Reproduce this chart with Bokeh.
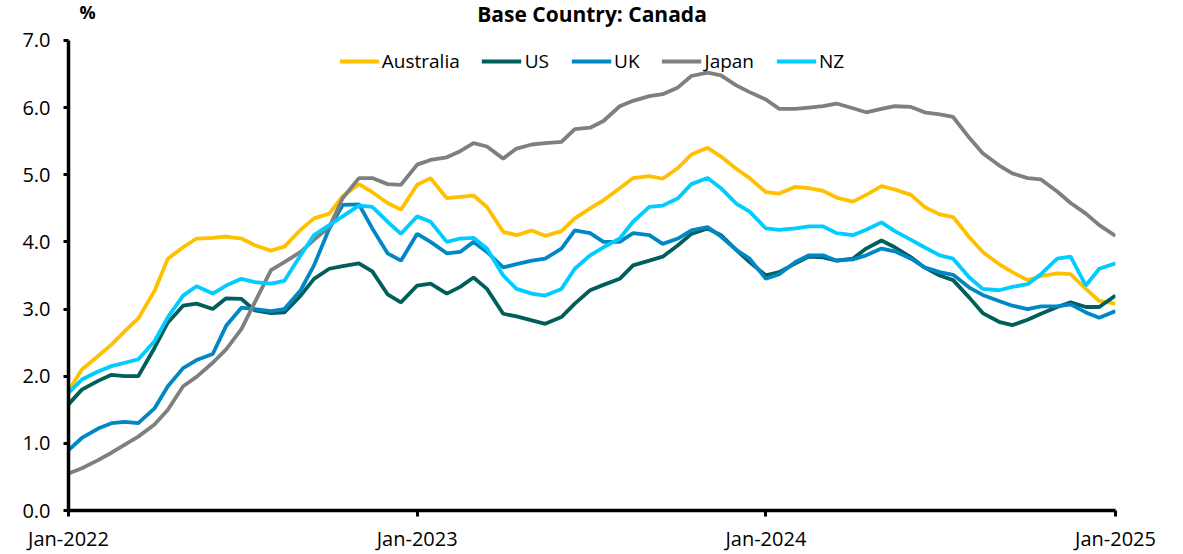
import pandas as pd
from datetime import datetime
from bokeh.plotting import figure
from bokeh.models import (Range1d, FixedTicker, NumeralTickFormatter, DatetimeTickFormatter,
                          Label, Legend, LegendItem, ColumnDataSource)
from bokeh.embed import file_html
from bokeh.resources import INLINE

# Semi-monthly observation dates (1st and 15th of each month)
dates = list(pd.date_range("2022-01-01", "2025-01-01", freq="SMS"))

australia = [1.78, 2.10, 2.30, 2.47, 2.67, 2.86, 3.27, 3.75, 3.92, 4.05, 4.06, 4.08,
             4.05, 3.95, 3.87, 3.93, 4.18, 4.35, 4.42, 4.68, 4.86, 4.74, 4.58, 4.48,
             4.85, 4.95, 4.65, 4.67, 4.69, 4.52, 4.15, 4.10, 4.17, 4.09, 4.16, 4.35,
             4.50, 4.62, 4.80, 4.95, 4.98, 4.94, 5.10, 5.30, 5.40, 5.27, 5.09, 4.95,
             4.74, 4.72, 4.82, 4.80, 4.76, 4.66, 4.60, 4.70, 4.83, 4.78, 4.70, 4.52,
             4.41, 4.37, 4.07, 3.85, 3.67, 3.55, 3.43, 3.49, 3.53, 3.52, 3.30, 3.12,
             3.08]
us = [1.58, 1.80, 1.93, 2.02, 2.00, 2.00, 2.42, 2.80, 3.05, 3.08, 3.00, 3.16,
      3.15, 2.98, 2.94, 2.95, 3.20, 3.45, 3.60, 3.64, 3.68, 3.56, 3.22, 3.10,
      3.35, 3.38, 3.23, 3.33, 3.47, 3.30, 2.93, 2.89, 2.83, 2.78, 2.88, 3.08,
      3.28, 3.36, 3.45, 3.65, 3.72, 3.78, 3.95, 4.12, 4.20, 4.10, 3.88, 3.70,
      3.50, 3.55, 3.68, 3.78, 3.77, 3.72, 3.75, 3.90, 4.02, 3.92, 3.77, 3.62,
      3.50, 3.43, 3.17, 2.94, 2.81, 2.76, 2.84, 2.93, 3.03, 3.10, 3.03, 3.03,
      3.20]
uk = [0.90, 1.08, 1.22, 1.30, 1.32, 1.30, 1.52, 1.85, 2.12, 2.24, 2.33, 2.75,
      3.02, 3.00, 2.97, 3.00, 3.28, 3.65, 4.20, 4.55, 4.56, 4.20, 3.83, 3.72,
      4.12, 4.00, 3.83, 3.85, 4.00, 3.85, 3.62, 3.67, 3.72, 3.75, 3.90, 4.17,
      4.13, 4.00, 4.00, 4.13, 4.10, 3.97, 4.05, 4.17, 4.22, 4.08, 3.88, 3.75,
      3.45, 3.52, 3.70, 3.80, 3.80, 3.72, 3.74, 3.80, 3.90, 3.86, 3.75, 3.62,
      3.55, 3.51, 3.32, 3.21, 3.12, 3.05, 3.00, 3.04, 3.04, 3.07, 2.95, 2.87,
      2.97]
japan = [0.55, 0.63, 0.75, 0.86, 0.98, 1.10, 1.28, 1.50, 1.85, 1.99, 2.20, 2.40,
         2.70, 3.10, 3.58, 3.70, 3.85, 4.03, 4.22, 4.65, 4.95, 4.95, 4.86, 4.85,
         5.15, 5.22, 5.26, 5.35, 5.47, 5.42, 5.24, 5.39, 5.45, 5.47, 5.49, 5.68,
         5.70, 5.80, 6.02, 6.10, 6.17, 6.20, 6.30, 6.47, 6.52, 6.48, 6.33, 6.23,
         6.12, 5.98, 5.98, 6.00, 6.02, 6.06, 5.99, 5.93, 5.98, 6.02, 6.01, 5.93,
         5.90, 5.86, 5.55, 5.32, 5.14, 5.02, 4.95, 4.93, 4.75, 4.58, 4.42, 4.25,
         4.09]
nz = [1.75, 1.95, 2.07, 2.15, 2.20, 2.25, 2.52, 2.88, 3.20, 3.34, 3.23, 3.35,
      3.45, 3.40, 3.38, 3.42, 3.80, 4.10, 4.25, 4.38, 4.54, 4.52, 4.30, 4.12,
      4.38, 4.30, 4.00, 4.05, 4.06, 3.90, 3.50, 3.30, 3.23, 3.20, 3.30, 3.60,
      3.80, 3.92, 4.05, 4.30, 4.52, 4.54, 4.65, 4.86, 4.95, 4.80, 4.57, 4.45,
      4.20, 4.18, 4.20, 4.23, 4.23, 4.13, 4.10, 4.18, 4.29, 4.16, 4.03, 3.92,
      3.80, 3.75, 3.47, 3.30, 3.28, 3.33, 3.37, 3.52, 3.75, 3.78, 3.35, 3.60,
      3.68]

series_names = ["Australia", "US", "UK", "Japan", "NZ"]
series_values = [australia, us, uk, japan, nz]
series_colors = ["#FFC000", "#005F5A", "#0088C6", "#7F7F7F", "#00CCFF"]

y_ticks = [0, 1, 2, 3, 4, 5, 6, 7]
x_tick_dates = [datetime(2022, 1, 1), datetime(2023, 1, 1), datetime(2024, 1, 1), datetime(2025, 1, 1)]

FONT = "Open Sans"

W, H = 1183, 554
B_LEFT, B_RIGHT, B_BOTTOM = 68, 68, 43
AXIS_TOP_PX = 40          # pixel row of the 7.0 gridline
Y_MAX = 7.0
frame_h = H - B_BOTTOM
# extend the y range above 7.0 so that the title/legend band sits inside the frame
y_top = Y_MAX * frame_h / (frame_h - AXIS_TOP_PX)


def ms(d):
    return pd.Timestamp(d).value / 1e6


x_start, x_end = ms(x_tick_dates[0]), ms(x_tick_dates[-1])
p = figure(width=W, height=H, x_axis_type="datetime",
           x_range=Range1d(x_start, x_end), y_range=Range1d(0, y_top),
           output_backend="svg", toolbar_location=None,
           min_border_left=B_LEFT, min_border_right=B_RIGHT, min_border_top=0,
           min_border_bottom=B_BOTTOM)

p.outline_line_color = None
p.xgrid.grid_line_color = None
p.ygrid.grid_line_color = None
p.background_fill_color = "white"
p.border_fill_color = "white"

items = []
for name, vals, col in zip(series_names, series_values, series_colors):
    src = ColumnDataSource(dict(x=dates, y=vals))
    r = p.line("x", "y", source=src, line_color=col, line_width=3.8)
    items.append(LegendItem(label=name, renderers=[r]))

legend = Legend(items=items, orientation="horizontal", location="top_center",
                border_line_color=None, background_fill_alpha=0,
                label_text_font=FONT, label_text_font_size="19px", label_text_color="#000000",
                glyph_width=40, glyph_height=20, label_standoff=3, spacing=22,
                padding=5, margin=48)
p.add_layout(legend, "center")

# axes
for ax in (p.xaxis[0], p.yaxis[0]):
    ax.axis_line_width = 3.5
    ax.axis_line_color = "black"
    ax.major_tick_line_width = 3
    ax.major_tick_line_color = "black"
    ax.major_tick_in = 0
    ax.minor_tick_line_color = None
    ax.major_label_text_font = FONT
    ax.major_label_text_font_size = "20px"
    ax.major_label_text_color = "black"

p.yaxis.ticker = FixedTicker(ticks=y_ticks)
p.yaxis.bounds = (0, Y_MAX)
p.yaxis.formatter = NumeralTickFormatter(format="0.0")
p.yaxis.major_tick_out = 5
p.yaxis.major_label_standoff = 13

p.xaxis.ticker = FixedTicker(ticks=[ms(d) for d in x_tick_dates])
fmt = "%b-%Y"
p.xaxis.formatter = DatetimeTickFormatter(years=fmt, months=fmt, days=fmt, hours=fmt,
                                          hourmin=fmt, minutes=fmt, minsec=fmt,
                                          seconds=fmt, milliseconds=fmt, microseconds=fmt)
p.xaxis.major_tick_out = 6
p.xaxis.major_label_standoff = 8

x_mid = (x_start + x_end) / 2
p.add_layout(Label(x=x_mid, y=Y_MAX, x_units="data", y_units="data", y_offset=26,
                   text="Base Country: Canada", text_align="center", text_baseline="middle",
                   text_font=FONT, text_font_size="21px", text_font_style="bold",
                   text_color="black"))
p.add_layout(Label(x=x_start, y=Y_MAX, x_units="data", y_units="data", x_offset=19, y_offset=28,
                   text="%", text_align="center", text_baseline="middle",
                   text_font=FONT, text_font_size="18px", text_font_style="bold",
                   text_color="black"))

open("out.html", "w").write(file_html(p, INLINE))
